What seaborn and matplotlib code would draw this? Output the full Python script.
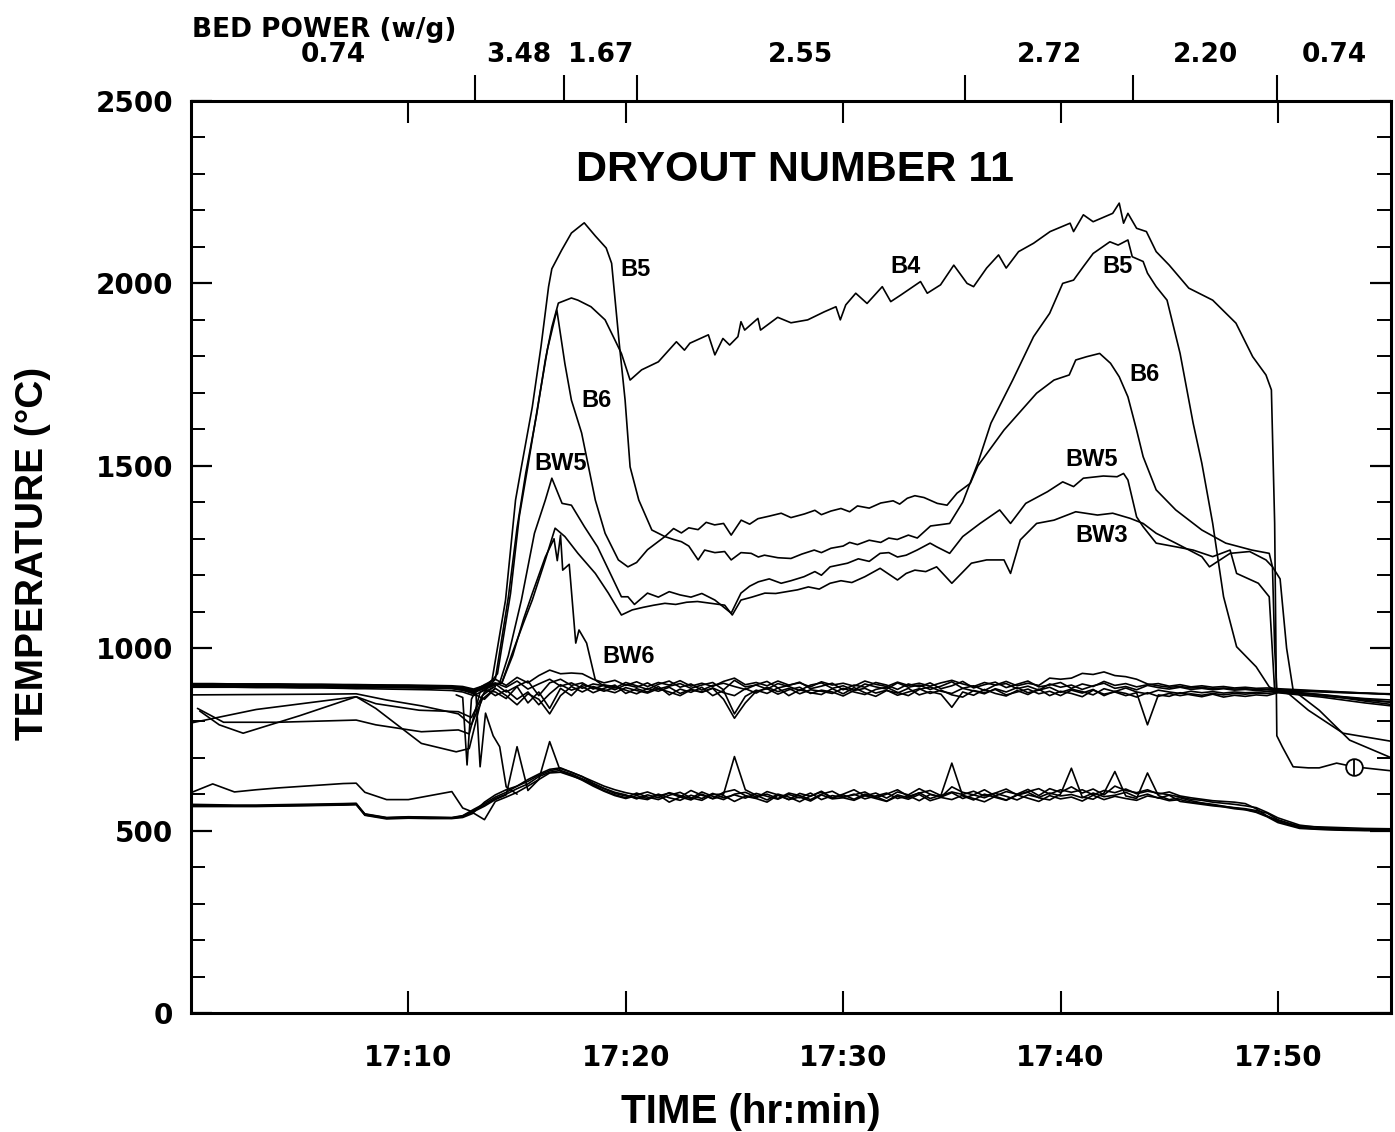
import numpy as np
import pandas as pd
import matplotlib
matplotlib.use('Agg')
import matplotlib.pyplot as plt
from matplotlib.ticker import MultipleLocator, FixedLocator, FuncFormatter
import seaborn as sns

# time in minutes after 17:00, temperature in deg C

# shared sample times for the two bundles of lower thermocouples
TIME_GRID = [0, 1, 2, 3, 4, 5, 6, 7, 7.6, 8,
             9, 10, 11, 12, 12.5, 13, 13.5, 14, 14.5, 15,
             15.5, 16, 16.5, 17, 17.5, 18, 18.5, 19, 19.5, 20,
             20.5, 21, 21.5, 22, 22.5, 23, 23.5, 24, 24.5, 25,
             25.5, 26, 26.5, 27, 27.5, 28, 28.5, 29, 29.5, 30,
             30.5, 31, 31.5, 32, 32.5, 33, 33.5, 34, 34.5, 35,
             35.5, 36, 36.5, 37, 37.5, 38, 38.5, 39, 39.5, 40,
             40.5, 41, 41.5, 42, 42.5, 43, 43.5, 44, 44.5, 45,
             45.5, 46, 46.5, 47, 47.5, 48, 48.5, 49, 49.5, 50,
             51, 52, 53, 54, 55.2]

# bundle near 900 C
C900_A = [903, 903, 902, 902, 902, 901, 901, 900, 900, 900,
          899, 899, 898, 897, 895, 888, 898, 905, 893, 910,
          888, 902, 915, 896, 905, 890, 902, 897, 886, 900,
          893, 905, 888, 896, 903, 890, 899, 906, 886, 912,
          894, 899, 888, 903, 895, 884, 899, 905, 890, 897,
          885, 902, 894, 888, 905, 893, 899, 887, 896, 908,
          890, 897, 884, 899, 903, 889, 896, 885, 902, 893,
          899, 887, 897, 904, 890, 895, 886, 898, 892, 888,
          893, 887, 890, 886, 889, 885, 887, 884, 886, 884,
          882, 880, 878, 876, 874]
C900_B = [899, 899, 898, 898, 897, 897, 897, 896, 896, 896,
          895, 894, 893, 891, 888, 878, 890, 870, 885, 860,
          880, 845, 875, 900, 885, 895, 878, 890, 899, 876,
          889, 880, 895, 872, 888, 879, 893, 870, 884, 820,
          868, 885, 876, 891, 870, 886, 878, 873, 889, 875,
          892, 878, 868, 884, 877, 890, 872, 881, 874, 838,
          880, 871, 887, 876, 869, 884, 873, 888, 870, 882,
          876, 867, 885, 874, 880, 870, 878, 790, 872, 868,
          878, 872, 867, 874, 866, 871, 868, 872, 870, 878,
          872, 866, 858, 850, 842]
C900_C = [896, 896, 896, 895, 895, 894, 894, 893, 893, 893,
          892, 892, 891, 890, 887, 882, 900, 915, 898, 920,
          905, 925, 940, 930, 932, 930, 915, 905, 912, 898,
          908, 895, 906, 899, 911, 896, 904, 895, 909, 918,
          900, 906, 897, 910, 899, 905, 894, 908, 899, 904,
          896, 910, 901, 895, 907, 898, 904, 896, 905, 912,
          902, 895, 906, 899, 909, 897, 904, 898, 918, 915,
          918, 931, 928, 935, 925, 922, 915, 902, 897, 893,
          895, 891, 893, 889, 891, 888, 889, 887, 887, 886,
          884, 882, 879, 877, 875]
C900_D = [893, 893, 893, 892, 892, 891, 891, 890, 889, 889,
          888, 887, 886, 884, 880, 870, 885, 880, 862, 895,
          850, 880, 835, 890, 870, 900, 892, 882, 893, 885,
          875, 890, 882, 893, 876, 887, 880, 891, 878, 870,
          889, 877, 893, 881, 890, 875, 886, 882, 876, 890,
          880, 873, 887, 893, 879, 870, 887, 894, 882, 876,
          890, 883, 875, 889, 880, 892, 878, 885, 893, 879,
          888, 881, 872, 889, 881, 891, 880, 875, 885, 880,
          876, 882, 878, 881, 877, 880, 878, 879, 881, 882,
          878, 873, 867, 862, 858]
C900_E = [901, 901, 900, 900, 899, 899, 898, 898, 897, 897,
          897, 896, 895, 894, 892, 885, 893, 902, 880, 896,
          910, 870, 905, 915, 898, 905, 888, 899, 891, 906,
          897, 887, 901, 910, 893, 902, 885, 898, 904, 895,
          887, 900, 909, 891, 898, 907, 889, 896, 904, 886,
          899, 893, 906, 899, 887, 902, 894, 905, 889, 897,
          909, 891, 900, 907, 892, 901, 910, 894, 899, 906,
          890, 902, 895, 909, 898, 903, 894, 900, 903, 896,
          900, 894, 897, 893, 895, 891, 893, 890, 891, 889,
          886, 883, 880, 877, 873]
C900_F = [897, 897, 897, 896, 896, 896, 895, 895, 894, 894,
          894, 893, 892, 890, 885, 875, 860, 890, 870, 845,
          875, 860, 820, 870, 895, 880, 895, 886, 878, 892,
          884, 877, 889, 880, 870, 886, 879, 890, 860, 808,
          850, 882, 889, 874, 886, 893, 876, 885, 880, 869,
          884, 890, 877, 885, 871, 880, 889, 876, 885, 872,
          866, 884, 878, 887, 872, 880, 888, 875, 882, 870,
          885, 877, 887, 870, 882, 876, 866, 878, 868, 876,
          870, 875, 871, 876, 872, 876, 874, 877, 876, 879,
          875, 870, 864, 855, 846]

# bundle near 600 C
C600_A = [604, 628, 606, 612, 617, 621, 625, 629, 630, 605,
          585, 585, 596, 607, 562, 550, 578, 598, 612, 622,
          640, 655, 668, 672, 660, 648, 635, 622, 612, 604,
          598, 606, 595, 603, 592, 610, 597, 588, 605, 612,
          596, 590, 607, 598, 585, 602, 594, 608, 590, 600,
          612, 595, 603, 589, 606, 598, 615, 600, 592, 620,
          605, 598, 612, 595, 607, 600, 613, 596, 615, 605,
          620, 603, 614, 598, 622, 610, 604, 612, 600, 606,
          595, 590, 586, 582, 580, 578, 574, 560, 540, 528,
          512, 510, 508, 506, 505]
C600_B = [572, 571, 570, 570, 571, 572, 573, 574, 575, 545,
          535, 537, 536, 535, 540, 555, 570, 588, 600, 615,
          628, 648, 660, 665, 655, 642, 628, 615, 602, 595,
          590, 585, 598, 578, 592, 584, 600, 587, 596, 580,
          594, 588, 578, 597, 585, 592, 581, 598, 587, 590,
          583, 596, 588, 580, 594, 586, 599, 582, 591, 585,
          597, 588, 579, 594, 584, 598, 589, 580, 596, 587,
          592, 581, 597, 585, 594, 588, 583, 595, 590, 582,
          585, 578, 575, 570, 566, 563, 560, 555, 548, 530,
          510, 505, 503, 502, 502]
C600_C = [569, 569, 568, 568, 569, 570, 571, 572, 573, 543,
          534, 536, 535, 534, 538, 552, 567, 585, 598, 730,
          610, 640, 658, 660, 650, 640, 625, 610, 598, 590,
          603, 592, 585, 597, 605, 590, 583, 599, 600, 703,
          612, 597, 584, 600, 592, 579, 595, 606, 589, 598,
          586, 600, 593, 581, 598, 590, 604, 588, 597, 685,
          595, 584, 600, 591, 583, 597, 605, 590, 584, 600,
          671, 592, 586, 603, 662, 595, 588, 658, 596, 585,
          590, 582, 576, 572, 567, 562, 558, 552, 540, 525,
          508, 504, 502, 501, 500]
C600_D = [566, 566, 566, 566, 567, 568, 569, 570, 571, 542,
          532, 534, 533, 533, 536, 548, 530, 580, 592, 605,
          622, 640, 744, 662, 652, 638, 622, 608, 596, 588,
          596, 588, 600, 590, 583, 597, 588, 602, 590, 598,
          589, 602, 594, 586, 599, 590, 603, 585, 596, 591,
          600, 587, 595, 603, 588, 596, 582, 599, 592, 604,
          588, 598, 590, 602, 594, 584, 598, 591, 603, 595,
          599, 590, 603, 593, 597, 605, 592, 600, 589, 597,
          580, 576, 572, 568, 565, 560, 557, 550, 538, 522,
          506, 503, 501, 500, 500]
C600_E = [568, 568, 567, 567, 568, 569, 570, 571, 572, 546,
          536, 538, 537, 536, 541, 558, 574, 592, 605, 622,
          635, 652, 664, 670, 660, 648, 630, 616, 605, 598,
          587, 598, 590, 604, 596, 588, 606, 594, 585, 600,
          605, 592, 600, 588, 603, 596, 585, 600, 608, 592,
          598, 606, 590, 600, 612, 594, 603, 610, 596, 606,
          599, 608, 595, 603, 614, 598, 607, 615, 600, 612,
          605, 612, 598, 610, 604, 614, 601, 608, 603, 598,
          592, 586, 583, 578, 575, 572, 568, 563, 550, 535,
          515, 508, 505, 503, 503]

# labelled bed thermocouples
B4_T = [0, 7.6, 12.0, 13.0, 13.7, 14.0, 14.6, 15.0, 15.4, 15.9,
        16.3, 16.6, 16.9, 17.5, 17.8, 18.4, 19.05, 19.5, 19.8, 20.2,
        20.73, 21.5, 22.33, 22.7, 22.95, 23.8, 24.1, 24.47, 24.78, 25.16,
        25.3, 25.47, 26.08, 26.2, 26.99, 27.6, 28.37, 29.13, 29.67, 29.87,
        30.12, 30.58, 31.1, 31.8, 32.19, 32.65, 33.56, 33.87, 34.48, 35.09,
        35.7, 36.0, 36.6, 37.15, 37.5, 38.07, 38.76, 39.52, 40.44, 40.6,
        41.05, 41.5, 42.4, 42.7, 42.9, 43.1, 43.5, 43.95, 44.4, 45.0,
        45.9, 47.0, 48.07, 48.84, 49.45, 49.7, 49.85, 49.95, 50.2, 50.7,
        51.4, 51.9, 52.7, 53.5, 55.2]
B4_V = [898, 897, 893, 885, 895, 915, 1140, 1330, 1480, 1640,
        1790, 1880, 1946, 1960, 1954, 1936, 1900, 1845, 1808, 1735,
        1763, 1785, 1840, 1817, 1836, 1859, 1804, 1849, 1831, 1854,
        1895, 1872, 1904, 1872, 1907, 1892, 1900, 1922, 1936, 1900,
        1941, 1973, 1945, 1991, 1950, 1968, 2005, 1973, 1996, 2050,
        2000, 1991, 2042, 2078, 2042, 2087, 2110, 2142, 2165, 2142,
        2188, 2169, 2192, 2220, 2165, 2192, 2151, 2142, 2087, 2050,
        1987, 1954, 1891, 1799, 1749, 1708, 1343, 760, 730, 675,
        672, 672, 685, 675, 664]

B5_T = [0, 7.6, 12.0, 13.0, 13.6, 13.85, 14.47, 14.93, 15.2, 15.7,
        16.1, 16.45, 16.6, 17.05, 17.5, 18.09, 18.6, 19.1, 19.35, 19.7,
        19.97, 20.2, 20.6, 21.2, 21.8, 22.2, 22.56, 22.9, 23.33, 23.63,
        24.1, 24.55, 24.85, 25.3, 25.77, 26.1, 26.38, 27.0, 27.6, 28.1,
        28.67, 29.0, 29.44, 30.0, 30.3, 30.66, 31.2, 31.73, 32.1, 32.49,
        33.0, 33.41, 34.02, 34.9, 35.5, 36.2, 36.8, 37.8, 38.76, 39.5,
        40.1, 40.6, 41.05, 41.5, 42.27, 42.65, 43.1, 43.3, 43.8, 44.0,
        44.4, 44.9, 45.5, 46.1, 46.5, 47.0, 47.5, 48.1, 49.0, 49.6,
        50.0, 51.0, 52.0, 53.0, 54.0, 55.2]
B5_V = [898, 896, 893, 884, 900, 913, 1132, 1406, 1497, 1661,
        1826, 1991, 2040, 2091, 2138, 2166, 2130, 2097, 2055, 1836,
        1680, 1497, 1406, 1324, 1306, 1298, 1292, 1280, 1242, 1269,
        1262, 1265, 1242, 1262, 1260, 1250, 1255, 1248, 1246, 1258,
        1269, 1262, 1274, 1280, 1290, 1284, 1296, 1290, 1302, 1298,
        1310, 1302, 1335, 1342, 1400, 1508, 1617, 1735, 1854, 1918,
        2000, 2009, 2046, 2082, 2114, 2105, 2119, 2073, 2060, 2028,
        1991, 1954, 1808, 1617, 1507, 1342, 1141, 1004, 949, 894,
        882, 876, 870, 864, 858, 852]

B6_T = [0, 7.6, 12.0, 13.0, 13.7, 14.1, 14.7, 15.1, 15.5, 16.0,
        16.4, 16.83, 17.2, 17.5, 17.97, 18.6, 19.05, 19.66, 20.1, 20.5,
        21.0, 21.8, 22.2, 22.56, 22.9, 23.33, 23.7, 24.09, 24.5, 24.85,
        25.31, 25.7, 26.08, 26.6, 27.15, 27.6, 28.22, 28.7, 29.0, 29.44,
        29.9, 30.3, 30.66, 31.2, 31.73, 32.3, 32.6, 32.95, 33.3, 33.72,
        34.33, 34.78, 35.24, 35.85, 36.2, 37.4, 38.9, 39.7, 40.4, 40.7,
        41.2, 41.8, 42.3, 42.7, 43.1, 43.5, 43.8, 44.4, 45.3, 46.5,
        47.6, 48.8, 49.6, 49.75, 49.85, 49.95, 51.0, 52.0, 53.0, 54.0,
        55.2]
B6_V = [902, 900, 895, 886, 900, 930, 1150, 1360, 1500, 1680,
        1820, 1927, 1780, 1680, 1590, 1406, 1315, 1242, 1223, 1235,
        1270, 1306, 1328, 1316, 1330, 1325, 1345, 1338, 1342, 1310,
        1351, 1340, 1355, 1362, 1370, 1358, 1368, 1378, 1366, 1376,
        1383, 1374, 1390, 1384, 1398, 1404, 1395, 1411, 1418, 1413,
        1397, 1392, 1425, 1452, 1500, 1598, 1699, 1735, 1749, 1790,
        1799, 1808, 1781, 1744, 1689, 1598, 1525, 1434, 1379, 1324,
        1288, 1269, 1260, 1223, 1000, 885, 878, 872, 866, 860,
        852]

BW5_T = [0, 7.6, 12.0, 13.0, 13.6, 14.2, 14.6, 15.2, 15.8, 16.3,
         16.6, 17.07, 17.5, 18.1, 18.7, 19.36, 19.8, 20.1, 20.4, 21.0,
         21.5, 22.0, 22.5, 23.0, 23.5, 24.1, 24.85, 25.3, 25.7, 26.1,
         26.6, 27.15, 27.6, 28.2, 28.7, 29.0, 29.4, 29.8, 30.2, 30.7,
         31.2, 31.7, 32.1, 32.5, 32.9, 33.4, 34.0, 34.3, 34.9, 35.5,
         36.3, 37.2, 37.7, 38.4, 39.4, 40.1, 40.6, 41.05, 41.97, 42.6,
         42.9, 43.1, 43.5, 43.8, 44.4, 45.3, 46.1, 47.0, 47.8, 48.1,
         49.1, 49.6, 49.85, 50.5, 51.4, 53.0, 55.2]
BW5_V = [901, 899, 894, 885, 895, 905, 980, 1132, 1315, 1406,
         1466, 1397, 1392, 1333, 1278, 1196, 1141, 1141, 1120, 1151,
         1140, 1155, 1146, 1140, 1150, 1132, 1096, 1151, 1170, 1182,
         1190, 1178, 1185, 1196, 1210, 1200, 1223, 1228, 1233, 1245,
         1238, 1260, 1262, 1250, 1255, 1269, 1288, 1278, 1260, 1306,
         1342, 1379, 1342, 1397, 1429, 1456, 1443, 1466, 1472, 1470,
         1479, 1461, 1360, 1333, 1288, 1278, 1269, 1251, 1269, 1205,
         1178, 1141, 885, 875, 830, 767, 745]

BW3_T = [0, 7.6, 12.0, 13.0, 13.7, 14.3, 14.8, 15.3, 15.7, 16.3,
         16.75, 17.2, 17.8, 18.6, 19.2, 19.8, 20.3, 20.8, 21.3, 21.8,
         22.3, 22.8, 23.3, 23.8, 24.55, 24.9, 25.3, 25.8, 26.4, 26.9,
         27.9, 28.4, 28.9, 29.4, 29.9, 30.4, 31.0, 31.7, 32.5, 32.9,
         33.3, 33.8, 34.3, 35.0, 35.9, 36.6, 37.4, 37.7, 38.15, 38.9,
         39.7, 40.7, 41.7, 42.4, 43.2, 43.8, 44.4, 45.3, 46.5, 46.85,
         47.8, 48.7, 49.45, 49.75, 50.1, 50.4, 50.7, 51.9, 53.3, 55.2]
BW3_V = [895, 894, 890, 880, 895, 905, 990, 1070, 1132, 1242,
         1329, 1306, 1260, 1205, 1151, 1091, 1105, 1112, 1118, 1123,
         1120, 1126, 1128, 1124, 1118, 1091, 1132, 1140, 1151, 1150,
         1160, 1168, 1162, 1178, 1185, 1180, 1196, 1219, 1187, 1205,
         1214, 1210, 1223, 1178, 1233, 1242, 1242, 1205, 1297, 1342,
         1351, 1374, 1365, 1370, 1356, 1342, 1315, 1288, 1251, 1223,
         1260, 1265, 1242, 1223, 1190, 1000, 885, 830, 748, 700]

BW6_T = [0, 7.6, 12.0, 13.0, 13.7, 14.3, 14.8, 15.3, 15.7, 16.3,
         16.7, 16.85, 17.0, 17.1, 17.4, 17.7, 17.85, 18.2, 18.6, 18.9, 19.5]
BW6_V = [900, 898, 893, 884, 893, 905, 980, 1080, 1150, 1250,
         1300, 1240, 1310, 1214, 1230, 1014, 1050, 1014, 913, 900, 895]

# short traces in the first 14 minutes
LOW1_T = [0.3, 1.5, 4.0, 7.6, 8.5, 10.6, 12.3, 12.8, 13.3, 13.8]
LOW1_V = [835, 797, 797, 803, 790, 771, 776, 765, 880, 895]
LOW2_T = [0.4, 1.3, 2.4, 5.0, 7.6, 8.5, 10.6, 12.2, 12.8, 13.4, 13.9]
LOW2_V = [828, 790, 767, 815, 867, 835, 739, 716, 725, 870, 893]
LOW3_T = [0.0, 3.0, 7.6, 8.5, 10.5, 12.3, 12.9, 13.5, 14.0]
LOW3_V = [795, 832, 867, 848, 830, 826, 810, 880, 895]
LOW4_T = [0.0, 6.0, 7.6, 9.0, 10.6, 12.3, 12.9, 13.4, 14.0]
LOW4_V = [872, 874, 875, 858, 842, 820, 790, 860, 890]
SPIKE_T = [12.2, 12.5, 12.7, 12.9, 13.1, 13.3, 13.55, 13.9, 14.2, 14.5, 15.0]
SPIKE_V = [872, 865, 680, 860, 885, 675, 822, 760, 730, 620, 600]

# circled point on the B4 tail
MARK_T = [53.5]
MARK_V = [675]

# bed power schedule (w/g), boundaries in minutes after 17:00
POWER_BOUNDS = [13.05, 17.15, 20.5, 35.6, 43.35, 49.95]
POWER_LABELS = ['0.74', '3.48', '1.67', '2.55', '2.72', '2.20', '0.74']

# curve labels: text, time, temperature
CURVE_LABELS = [('B5', 20.45, 2037), ('B4', 32.86, 2046), ('B6', 18.66, 1680),
                ('BW5', 17.0, 1505), ('BW6', 20.13, 977), ('B5', 42.6, 2046),
                ('B6', 43.84, 1749), ('BW5', 41.45, 1518), ('BW3', 41.9, 1308)]

X_MIN, X_MAX = 0, 55.2


def build_frame():
    traces = [('B4', B4_T, B4_V), ('B5', B5_T, B5_V), ('B6', B6_T, B6_V),
              ('BW5', BW5_T, BW5_V), ('BW3', BW3_T, BW3_V), ('BW6', BW6_T, BW6_V),
              ('L1', LOW1_T, LOW1_V), ('L2', LOW2_T, LOW2_V), ('L3', LOW3_T, LOW3_V),
              ('L4', LOW4_T, LOW4_V), ('SP', SPIKE_T, SPIKE_V)]
    bundle = {'C9A': C900_A, 'C9B': C900_B, 'C9C': C900_C, 'C9D': C900_D,
              'C9E': C900_E, 'C9F': C900_F, 'C6A': C600_A, 'C6B': C600_B,
              'C6C': C600_C, 'C6D': C600_D, 'C6E': C600_E}
    for name, vals in bundle.items():
        traces.append((name, TIME_GRID, vals))
    frames = [pd.DataFrame({'time': t, 'temp': v, 'trace': n}) for n, t, v in traces]
    return pd.concat(frames, ignore_index=True)


def main():
    df = build_frame()

    sns.set_style('ticks', {'axes.edgecolor': 'black', 'xtick.color': 'black',
                            'ytick.color': 'black', 'text.color': 'black'})
    plt.rcParams['font.family'] = ['DejaVu Sans']

    fig = plt.figure(figsize=(13.95, 11.32), dpi=100)
    ax = fig.add_axes([0.1369, 0.1051, 0.8602, 0.8057])

    sns.lineplot(data=df, x='time', y='temp', units='trace', estimator=None,
                 sort=False, color='black', lw=1.2, ax=ax, legend=False)
    ax.plot(MARK_T, MARK_V, 'o', ms=12, mfc='white', mec='black', mew=1.3)
    ax.plot(MARK_T, MARK_V, '|', ms=12, mec='black', mew=1.3)

    ax.set_xlim(X_MIN, X_MAX)
    ax.set_ylim(0, 2500)

    # bed power scale on a twin axis above
    axp = ax.twiny()
    axp.set_xlim(X_MIN, X_MAX)
    edges = [X_MIN] + POWER_BOUNDS + [X_MAX]
    mids = [(a + b) / 2 for a, b in zip(edges[:-1], edges[1:])]
    axp.xaxis.set_major_locator(FixedLocator(POWER_BOUNDS))
    axp.xaxis.set_major_formatter(FuncFormatter(lambda v, p: ''))
    axp.xaxis.set_minor_locator(FixedLocator(mids))
    axp.set_xticklabels(POWER_LABELS, minor=True)
    axp.tick_params(axis='x', which='major', direction='out', length=19, width=1.5)
    axp.tick_params(axis='x', which='minor', length=0, pad=24, labelsize=19)
    for lbl in axp.get_xticklabels(minor=True):
        lbl.set_fontweight('bold')
    for sp in axp.spines.values():
        sp.set_visible(False)

    ax.xaxis.set_major_locator(FixedLocator([10, 20, 30, 40, 50]))
    ax.xaxis.set_major_formatter(FuncFormatter(lambda v, p: f'17:{int(round(v)):02d}'))
    ax.yaxis.set_major_locator(MultipleLocator(500))
    ax.yaxis.set_minor_locator(MultipleLocator(100))
    ax.tick_params(axis='x', which='major', direction='in', length=16, width=1.5,
                   top=True, bottom=True, labelsize=20, pad=22)
    ax.tick_params(axis='y', which='major', direction='in', length=15, width=1.6,
                   left=True, right=True, labelsize=20, pad=13)
    ax.tick_params(axis='y', which='minor', direction='in', length=10, width=1.4,
                   left=True, right=True)
    for lbl in ax.get_xticklabels() + ax.get_yticklabels():
        lbl.set_fontweight('bold')
    for sp in ax.spines.values():
        sp.set_linewidth(2.2)
        sp.set_visible(True)

    ax.set_xlabel('')
    ax.set_ylabel('')

    for txt, t, v in CURVE_LABELS:
        ax.text(t, v, txt, ha='center', va='center', fontsize=17,
                fontweight='bold', family='Liberation Sans')

    ax.text(0.503, 0.924, 'DRYOUT NUMBER 11', transform=ax.transAxes,
            ha='center', va='center', fontsize=31, fontweight='bold',
            family='Liberation Sans')

    fig.text(192 / 1395, 1 - 37 / 1132, 'BED POWER (w/g)', ha='left', va='baseline',
             fontsize=19, fontweight='bold')
    fig.text(33 / 1395, 1 - 553 / 1132, 'TEMPERATURE (°C)', rotation=90,
             ha='center', va='center', fontsize=28, fontweight='bold',
             family='Liberation Sans')
    fig.text(751 / 1395, 1 - 1112 / 1132, 'TIME (hr:min)', ha='center', va='center',
             fontsize=29, fontweight='bold', family='Liberation Sans')

    fig.savefig('out.png', dpi=100)
    plt.close(fig)


if __name__ == '__main__':
    main()
